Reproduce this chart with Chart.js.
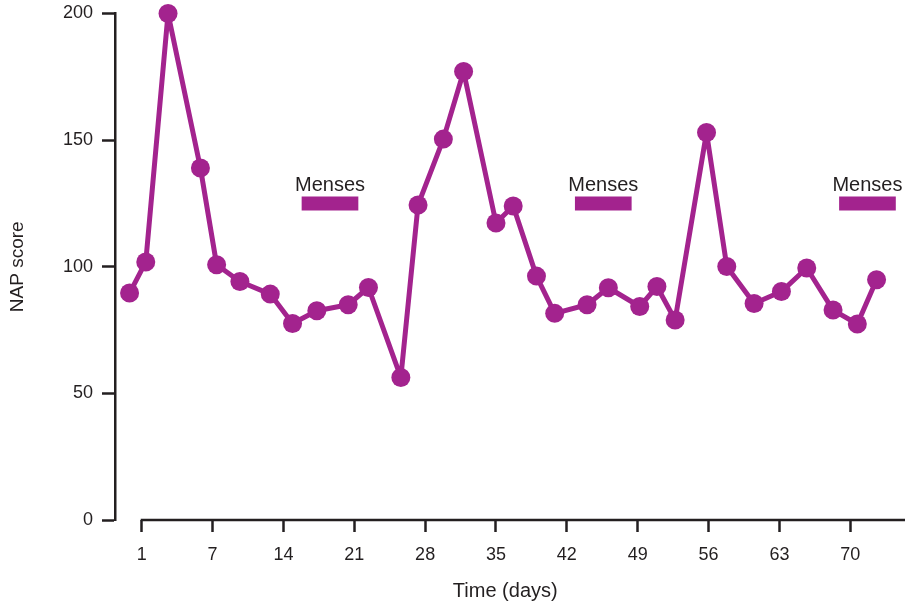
<!DOCTYPE html>
<html>
<head>
<meta charset="utf-8">
<script src="https://cdn.jsdelivr.net/npm/chart.js@4"></script>
<style>
  html, body { margin: 0; padding: 0; background: #fff; }
  canvas { display: block; }
</style>
</head>
<body>
<canvas id="napChart" width="905" height="603"></canvas>
<script>
// --- DATA ---
const days = [-1.2, 0.4, 2.6, 5.8, 7.4, 9.7, 12.7, 14.9, 17.3, 20.4, 22.4, 25.6, 27.3, 29.8, 31.8, 35.0,
              36.7, 39.0, 40.8, 44.0, 46.1, 49.2, 50.9, 52.7, 55.8, 57.8, 60.5, 63.2, 65.7, 68.3, 70.7, 72.6];
const napScores = [89.6, 101.9, 200, 139, 100.8, 94.2, 89.2, 77.6, 82.6, 85.0, 91.8, 56.3, 124.4, 150.4, 177.1, 117.3,
                   124.0, 96.3, 81.6, 85.0, 91.7, 84.3, 92.2, 79.0, 153.0, 100.1, 85.5, 90.2, 99.5, 82.9, 77.4, 94.9];
const xTickValues = [0, 7, 14, 21, 28, 35, 42, 49, 56, 63, 70];
const xTickLabels = ['1', '7', '14', '21', '28', '35', '42', '49', '56', '63', '70'];
const yTickValues = [0, 50, 100, 150, 200];
const mensesStart = [15.8, 42.8, 68.9];
const mensesEnd = [21.4, 48.4, 74.5];
const mensesLevel = 125;
const mensesLabel = 'Menses';

// --- STYLE ---
const purple = '#a3238e';
const ink = '#231f20';

Chart.defaults.font.family = '"Liberation Sans", Arial, sans-serif';
Chart.defaults.font.size = 18;
Chart.defaults.color = ink;

// x axis line starts at the first tick (detached from the y axis), plus the "Menses" labels
const axisAndLabels = {
    id: 'axisAndLabels',
    beforeDatasetsDraw(chart) {
        const { ctx, chartArea, scales: { x } } = chart;
        ctx.save();
        ctx.strokeStyle = ink;
        ctx.lineWidth = 2.5;
        ctx.beginPath();
        ctx.moveTo(x.getPixelForValue(xTickValues[0]) - 1, chartArea.bottom);
        ctx.lineTo(chart.width, chartArea.bottom);
        ctx.stroke();
        ctx.restore();
    },
    afterDatasetsDraw(chart) {
        const { ctx, scales: { x, y } } = chart;
        ctx.save();
        ctx.fillStyle = ink;
        ctx.font = '20px "Liberation Sans", Arial, sans-serif';
        ctx.textAlign = 'center';
        ctx.textBaseline = 'alphabetic';
        mensesStart.forEach((s, i) => {
            const cx = (x.getPixelForValue(s) + x.getPixelForValue(mensesEnd[i])) / 2;
            ctx.fillText(mensesLabel, cx, y.getPixelForValue(mensesLevel) - 12);
        });
        ctx.restore();
    }
};

const mensesSets = mensesStart.map((s, i) => ({
    data: [{ x: s, y: mensesLevel }, { x: mensesEnd[i], y: mensesLevel }],
    borderColor: purple,
    borderWidth: 14,
    borderCapStyle: 'butt',
    pointRadius: 0,
    clip: false
}));

new Chart(document.getElementById('napChart'), {
    type: 'line',
    data: {
        datasets: [{
            data: days.map((d, i) => ({ x: d, y: napScores[i] })),
            borderColor: purple,
            backgroundColor: purple,
            borderWidth: 5,
            borderJoinStyle: 'round',
            pointRadius: 9.5,
            pointBorderWidth: 0,
            pointBackgroundColor: purple,
            tension: 0,
            clip: false
        }, ...mensesSets]
    },
    options: {
        responsive: false,
        animation: false,
        layout: { padding: { top: 13.5, right: 0, left: 0, bottom: 0 } },
        plugins: { legend: { display: false }, tooltip: { enabled: false } },
        scales: {
            x: {
                type: 'linear',
                min: -2.64,
                max: 74.47,
                afterBuildTicks: scale => { scale.ticks = xTickValues.map(v => ({ value: v })); },
                afterFit: scale => {
                    scale.height = 83;
                    scale.paddingLeft = 0;
                    scale.paddingRight = 0;
                },
                ticks: {
                    padding: 12,
                    maxRotation: 0,
                    autoSkip: false,
                    callback: (v) => xTickLabels[xTickValues.indexOf(v)]
                },
                grid: { drawOnChartArea: false, tickLength: 12, tickColor: ink, tickWidth: 2.5 },
                border: { display: false },
                title: { display: true, text: 'Time (days)', font: { size: 20 }, padding: { top: 3, bottom: 0 } }
            },
            y: {
                min: 0,
                max: 200,
                afterBuildTicks: scale => { scale.ticks = yTickValues.map(v => ({ value: v })); },
                afterFit: scale => {
                    scale.width = 115;
                    scale.paddingTop = 0;
                    scale.paddingBottom = 0;
                },
                ticks: { padding: 9 },
                grid: { drawOnChartArea: false, tickLength: 13, tickColor: ink, tickWidth: 2.5 },
                border: { display: true, color: ink, width: 2.5 },
                title: { display: true, text: 'NAP score', font: { size: 19 }, padding: { top: 6, bottom: 0 } }
            }
        }
    },
    plugins: [axisAndLabels]
});
</script>
</body>
</html>
